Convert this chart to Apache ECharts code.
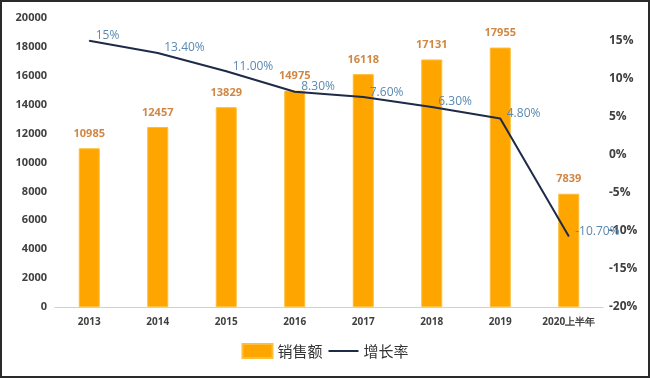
<!DOCTYPE html>
<html>
<head>
<meta charset="utf-8">
<script src="https://cdn.jsdelivr.net/npm/echarts@6/dist/echarts.min.js"></script>
<style>
  html, body { margin: 0; padding: 0; background: #fff; }
  #chart { width: 650px; height: 378px; box-sizing: border-box; border: 2px solid #2a2a2a; }
</style>
</head>
<body>
<div id="chart"></div>
<script>
const years = ["2013", "2014", "2015", "2016", "2017", "2018", "2019", "2020上半年"];
const sales = [10985, 12457, 13829, 14975, 16118, 17131, 17955, 7839];
const growth = [15, 13.4, 11.0, 8.3, 7.6, 6.3, 4.8, -10.7];
const growthLabels = ["15%", "13.40%", "11.00%", "8.30%", "7.60%", "6.30%", "4.80%", "-10.70%"];

const chart = echarts.init(document.getElementById("chart"));

const axisText = { color: "#404040", fontSize: 11, fontWeight: "bold", fontFamily: "Open Sans, sans-serif" };

chart.setOption({
  animation: false,
  grid: { left: 53, right: 45, top: 16, bottom: 69, containLabel: false },
  legend: {
    bottom: 12,
    left: "center",
    itemGap: 6,
    itemWidth: 30,
    itemHeight: 14,
    textStyle: { fontSize: 15, color: "#333", fontFamily: "Noto Sans CJK SC" },
    data: [
      { name: "销售额", icon: "rect" },
      { name: "增长率", icon: "path://M0,9 L30,9 L30,11 L0,11 Z" }
    ]
  },
  xAxis: {
    type: "category",
    data: years,
    axisLine: { lineStyle: { color: "#d0d0d0", width: 1 } },
    axisTick: { show: false },
    axisLabel: Object.assign({}, axisText, { margin: 10, fontSize: 10, interval: 0 })
  },
  yAxis: [
    {
      type: "value",
      min: 0,
      max: 20000,
      interval: 2000,
      splitLine: { show: false },
      axisLine: { show: false },
      axisTick: { show: false },
      axisLabel: Object.assign({}, axisText, {
        margin: 8,
        formatter: function (v) { return String(v); }
      })
    },
    {
      type: "value",
      min: -20,
      max: 18,
      interval: 5,
      splitLine: { show: false },
      axisLine: { show: false },
      axisTick: { show: false },
      axisLabel: Object.assign({}, axisText, {
        margin: 6,
        fontSize: 12,
        formatter: function (v) { return v % 5 === 0 ? v + "%" : ""; }
      })
    }
  ],
  series: [
    {
      name: "销售额",
      type: "bar",
      data: sales,
      barWidth: 21,
      itemStyle: { color: "#FFA500", borderColor: "#FDBE3A", borderWidth: 1 },
      label: {
        show: true,
        position: "top",
        distance: 9,
        color: "#D08744",
        fontSize: 11,
        fontWeight: "bold",
        fontFamily: "Open Sans, sans-serif"
      }
    },
    {
      name: "增长率",
      type: "line",
      yAxisIndex: 1,
      data: growth,
      symbol: "circle",
      symbolSize: 1,
      showSymbol: true,
      lineStyle: { color: "#1E2A48", width: 2 },
      itemStyle: { color: "#1E2A48" },
      label: {
        show: true,
        position: "right",
        distance: 6,
        offset: [0, -5],
        color: "#5A89B2",
        fontSize: 12,
        fontFamily: "Open Sans, sans-serif",
        formatter: function (p) { return growthLabels[p.dataIndex]; }
      }
    }
  ]
});

window.addEventListener("resize", function () { chart.resize(); });
</script>
</body>
</html>
